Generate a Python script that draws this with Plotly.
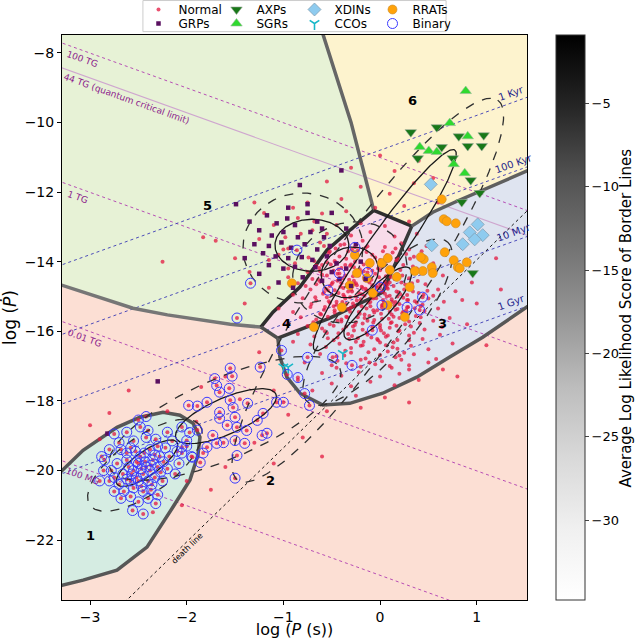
import numpy as np
import plotly.graph_objects as go
from plotly.colors import sample_colorscale

FONT = "DejaVu Sans"
X_RANGE = [-3.29, 1.52]
Y_RANGE = [-23.72, -7.49]

# ---------------- pulsar samples: log P (s), log Pdot ----------------
normal_logp = [
    -0.62, -0.41, -0.18, 0.05, 0.22, -0.95, -0.52, -0.29, -0.08, 0.13,
    0.35, -0.74, -0.35, -0.15, 0.30, -0.47, 0.00, 0.18, -1.05, 0.48,
    -0.88, -0.66, -0.55, -0.40, -0.30, -0.21, -0.10, 0.02, 0.12, 0.24,
    0.38, 0.55, -0.75, -0.60, -0.48, -0.36, -0.26, -0.16, -0.05, 0.06,
    0.18, 0.30, 0.44, 0.65, -0.95, -0.70, -0.42, -0.20, 0.00, -0.12,
    -0.85, -0.62, -0.52, -0.44, -0.34, -0.27, -0.19, -0.11, -0.03, 0.05,
    0.14, 0.22, 0.33, 0.47, 0.60, -0.72, -0.58, -0.47, -0.38, -0.30,
    -0.22, -0.14, -0.06, 0.02, 0.10, 0.19, 0.28, 0.40, 0.55, 0.78,
    -0.40, -0.24, -0.08, 0.08, -0.50, -0.16, 0.25, -0.90, -0.33, 0.00,
    -0.80, -0.66, -0.55, -0.45, -0.36, -0.28, -0.20, -0.12, -0.04, 0.04,
    0.12, 0.20, 0.29, 0.38, 0.50, 0.66, 0.85, -0.72, -0.58, -0.48,
    -0.39, -0.30, -0.22, -0.14, -0.06, 0.02, 0.10, 0.18, 0.27, 0.36,
    0.46, 0.60, -0.90, -0.62, -0.35, -0.10, 0.15, 0.42, -0.25, 0.07,
    -0.82, -0.66, -0.54, -0.44, -0.34, -0.25, -0.16, -0.07, 0.02, 0.11,
    0.20, 0.30, 0.42, 0.55, 0.72, -0.75, -0.60, -0.48, -0.38, -0.28,
    -0.18, -0.08, 0.01, 0.10, 0.20, 0.32, 0.46, 0.64, -0.95, 0.90,
    -0.85, -0.68, -0.55, -0.44, -0.33, -0.23, -0.13, -0.03, 0.08, 0.18,
    0.30, 0.44, 0.62, -0.72, -0.56, -0.42, -0.30, -0.18, -0.06, 0.06,
    0.18, 0.32, 0.50, 0.75, -0.90, -0.25, 0.00,
    -0.62, -0.45, -0.30, -0.15, 0.00, 0.16, 0.35, 0.58, -0.78, -0.50,
    -0.35, -0.20, -0.05, 0.12, 0.30, -0.60, -0.40, -0.22, 0.00, 0.20,
    -0.50, -0.30, -0.10, 0.15, -0.70, -0.25, 0.05, 0.40, 0.65, -0.85,
    -0.55, -0.30, -0.10, 0.15, 0.38, -0.70, -0.45, -0.20, 0.05, 0.30,
    -0.85, -0.60, -0.35, -0.05, 0.25, -1.10, -1.25, -0.98, -0.40, 0.10,
    -0.75, 0.35, -0.20, 0.55, 0.15, -0.55, 0.00, 0.40, -0.30, 0.60,
    -1.20, -0.90, -1.00, -1.15, -0.82, -0.68, -1.30, -0.95, -1.83,
    -1.50, -2.25, -1.70, -1.35, -1.15, -1.40, -1.05, -1.25, -1.60, -1.85,
    -2.60, -2.20, -1.45, -1.10, -0.95, -0.55, -0.20, 0.30, 0.80, 1.10,
    1.00, 1.25, 0.95, 1.20, 0.85, -1.30, -1.10, -0.80, -2.00, -1.75,
    -2.35, -2.05, -1.60, -0.60, 0.10, 0.50, -2.80, -3.00, -2.90, -1.90,
    -0.58, -0.46, -0.37, -0.23, -0.13, 0.03, 0.16, 0.27, 0.43, -0.68,
    -0.51, -0.43, -0.31, -0.17, -0.02, 0.09, 0.21, 0.34, 0.52, -0.64,
    -0.49, -0.39, -0.25, -0.09, 0.04, 0.15, 0.26, 0.39, -0.77, -0.56,
    -0.41, -0.29, -0.18, -0.04, 0.07, 0.17, 0.32, 0.49, -0.67, -0.53,
    -0.37, -0.24, -0.09, 0.03, 0.13, 0.24, 0.36, -0.71, -0.57, -0.45,
    -0.33, -0.19, -0.07, 0.06, 0.16, 0.29, 0.44, -0.61, -0.47, -0.35,
    -0.21, -0.11, 0.01, 0.14, 0.23, 0.37, -0.69, -0.52, -0.40, -0.26,
    -0.13, 0.00, 0.12, 0.26, 0.41, -0.57, -0.43, -0.27, -0.14, 0.04,
    0.19, 0.35, -0.48, -0.32, -0.17, -0.02, 0.14, 0.30, -0.36, -0.12,
    0.08, 0.25, -0.44, -0.20, 0.02, 0.22, -0.63, -0.28, 0.11, 0.45,
    -0.53, -0.42, -0.33, -0.24, -0.14, -0.05, 0.07, 0.17, 0.31, -0.60,
    -0.46, -0.36, -0.27, -0.17, -0.08, 0.01, 0.11, 0.23, 0.37, -0.55,
    -0.44, -0.32, -0.22, -0.12, -0.01, 0.10, 0.19, 0.33, -0.66, -0.50,
    -0.38, -0.27, -0.15, -0.04, 0.08, 0.21, 0.34, -0.59, -0.43, -0.31,
    -0.19, -0.07, 0.05, 0.18, 0.28, -0.52, -0.39, -0.26, -0.10, 0.03,
    0.16, 0.27, -0.47, -0.31, -0.16, -0.03, 0.12, 0.24, -0.40, -0.23,
    -0.06, 0.09, -0.35, -0.18, 0.00, 0.17, -0.29, -0.09, 0.06, -0.54,
    -0.20, 0.13, -0.37, 0.20, -0.45, -0.11, 0.30, -0.26, 0.05, -0.62,
]
normal_logpdot = [
    -13.45, -13.52, -13.40, -13.58, -13.47, -13.62, -13.71, -13.66, -13.80, -13.74,
    -13.86, -13.88, -13.92, -13.60, -13.65, -13.98, -13.95, -13.90, -13.80, -13.55,
    -14.05, -14.12, -14.02, -14.18, -14.08, -14.22, -14.05, -14.15, -14.28, -14.10,
    -14.20, -14.05, -14.30, -14.38, -14.26, -14.40, -14.33, -14.45, -14.35, -14.42,
    -14.36, -14.48, -14.32, -14.40, -14.45, -14.50, -14.47, -14.30, -14.25, -14.18,
    -14.62, -14.58, -14.70, -14.55, -14.66, -14.55, -14.72, -14.60, -14.75, -14.58,
    -14.70, -14.60, -14.75, -14.65, -14.80, -14.80, -14.88, -14.82, -14.95, -14.80,
    -14.90, -14.82, -14.95, -14.86, -14.98, -14.88, -14.96, -14.90, -14.98, -14.85,
    -14.62, -14.68, -14.68, -14.78, -14.95, -14.98, -14.80, -14.95, -14.86, -14.66,
    -15.05, -15.12, -15.02, -15.15, -15.06, -15.20, -15.08, -15.18, -15.05, -15.16,
    -15.08, -15.22, -15.10, -15.18, -15.06, -15.15, -15.10, -15.30, -15.38, -15.28,
    -15.40, -15.32, -15.45, -15.35, -15.46, -15.32, -15.44, -15.36, -15.48, -15.34,
    -15.42, -15.35, -15.45, -15.50, -15.22, -15.28, -15.25, -15.28, -15.00, -15.00,
    -15.60, -15.66, -15.58, -15.70, -15.60, -15.74, -15.62, -15.75, -15.64, -15.76,
    -15.62, -15.72, -15.60, -15.70, -15.62, -15.85, -15.92, -15.84, -15.95, -15.86,
    -15.96, -15.88, -15.98, -15.90, -15.98, -15.86, -15.95, -15.88, -15.78, -15.80,
    -16.08, -16.15, -16.05, -16.18, -16.08, -16.20, -16.10, -16.22, -16.12, -16.25,
    -16.12, -16.22, -16.10, -16.38, -16.45, -16.36, -16.48, -16.40, -16.52, -16.40,
    -16.50, -16.42, -16.52, -16.35, -16.30, -16.30, -16.32,
    -16.65, -16.72, -16.62, -16.78, -16.68, -16.75, -16.66, -16.80, -16.90, -16.98,
    -16.92, -17.02, -16.95, -17.05, -16.98, -17.20, -17.28, -17.18, -17.30, -17.22,
    -17.50, -17.58, -17.45, -17.55, -17.70, -17.85, -17.90, -17.40, -17.10, -17.40,
    -13.20, -13.25, -13.15, -13.28, -13.20, -13.10, -12.95, -12.90, -12.98, -12.85,
    -12.75, -12.62, -12.55, -12.45, -12.40, -12.95, -13.35, -13.30, -12.20, -12.05,
    -12.30, -11.75, -11.85, -11.60, -11.40, -11.70, -10.95, -11.10, -11.30, -12.30,
    -12.60, -12.45, -13.65, -13.95, -13.20, -12.85, -12.30, -14.20, -13.30,
    -13.90, -14.00, -13.40, -14.30, -14.75, -15.20, -15.35, -16.60, -17.30, -17.60,
    -17.70, -18.30, -17.95, -17.70, -18.40, -18.30, -18.20, -18.05, -17.30, -16.40,
    -15.20, -14.80, -14.60, -13.90, -13.60, -19.20, -19.80, -19.05, -20.30, -20.55,
    -21.20, -21.00, -19.90, -19.60, -17.00, -16.90, -18.35, -18.70, -19.10, -18.60,
    -13.55, -13.62, -13.50, -13.68, -13.56, -13.70, -13.62, -13.78, -13.70, -13.98,
    -14.08, -14.22, -14.12, -14.28, -14.20, -14.32, -14.24, -14.14, -14.26, -14.52,
    -14.60, -14.48, -14.62, -14.52, -14.64, -14.50, -14.66, -14.56, -14.70, -14.78,
    -14.72, -14.86, -14.76, -14.88, -14.74, -14.86, -14.72, -14.84, -15.02, -15.14,
    -15.00, -15.12, -15.02, -15.10, -15.16, -15.04, -15.14, -15.22, -15.30, -15.24,
    -15.36, -15.28, -15.40, -15.26, -15.38, -15.30, -15.24, -15.52, -15.46, -15.58,
    -15.50, -15.56, -15.50, -15.58, -15.48, -15.56, -15.74, -15.80, -15.72, -15.82,
    -15.70, -15.82, -15.74, -15.80, -15.76, -16.00, -16.06, -15.98, -16.04, -16.06,
    -16.00, -16.04, -16.26, -16.22, -16.30, -16.26, -16.32, -16.26, -16.56, -16.60,
    -16.58, -16.62, -16.85, -16.82, -16.86, -16.82, -14.18, -14.42, -14.44, -14.95,
    -13.75, -13.85, -13.70, -13.83, -13.72, -13.88, -13.82, -13.96, -13.92, -14.10,
    -14.02, -14.10, -14.16, -14.08, -14.26, -14.10, -14.18, -14.40, -14.30, -14.40,
    -14.35, -14.52, -14.40, -14.55, -14.45, -14.60, -14.42, -14.62, -14.65, -14.64,
    -14.76, -14.64, -14.78, -14.70, -14.66, -14.94, -14.86, -14.92, -14.90, -15.02,
    -14.94, -15.06, -14.92, -15.00, -15.10, -15.18, -15.16, -15.28, -15.16, -15.24,
    -15.16, -15.40, -15.40, -15.44, -15.52, -15.40, -15.52, -15.44, -15.66, -15.60,
    -15.68, -15.64, -15.86, -15.78, -15.90, -15.84, -16.14, -16.18, -16.16, -16.20,
    -16.42, -16.46, -16.70, -16.70, -17.05, -16.90, -17.10, -14.00, -14.02, -14.28,
]

binary_logp = [
    -2.60, -2.55, -2.50, -2.45, -2.42, -2.38, -2.35, -2.48, -2.52, -2.58,
    -2.40, -2.33, -2.30, -2.28, -2.44, -2.62, -2.66, -2.70, -2.65, -2.55,
    -2.47, -2.37, -2.25, -2.20, -2.18, -2.22, -2.30, -2.38, -2.53, -2.62,
    -2.72, -2.78, -2.80, -2.75, -2.68, -2.58, -2.50, -2.40, -2.30, -2.32,
    -2.56, -2.45, -2.85, -2.80, -2.70, -2.55, -2.42, -2.32, -2.15, -2.10,
    -2.08, -2.05, -2.00, -1.95, -2.12, -2.62, -2.40, -2.48, -2.75, -2.88,
    -2.86, -2.90, -2.47, -2.52, -2.43, -2.37, -2.57, -2.62, -2.50, -2.45,
    -2.36, -2.27, -2.24, -2.33, -2.58, -2.68, -2.75, -2.42, -2.50, -2.20,
    -2.05,
    -1.98, -1.89, -1.79, -1.71, -1.69, -1.55, -1.53, -1.24, -1.66, -1.56,
    -1.52, -1.37, -1.66, -1.55, -1.50, -1.66, -1.58, -1.48, -1.38, -1.21,
    -1.27, -1.17, -1.22, -1.40, -1.50, -1.62, -1.73, -1.89, -1.97, -2.00,
    -2.05, -1.79, -1.69, -1.83, -1.94, -1.50, -1.07, -1.00, -1.48, -1.86,
    -1.34, -1.48, -0.86, -1.02, -0.75, -0.49, -0.29, -0.96, -0.85, -0.78,
    -0.73, -0.08, 0.02, 0.28, 0.41, 0.44, -0.42, -0.54, -0.13, 0.00,
    -0.26,
]
binary_logpdot = [
    -19.90, -20.00, -19.80, -20.10, -19.90, -20.00, -19.70, -19.60, -20.20, -20.30,
    -20.30, -20.20, -19.90, -19.60, -19.50, -19.70, -20.10, -20.40, -20.60, -20.50,
    -20.45, -20.55, -20.30, -19.95, -19.60, -19.35, -19.30, -19.40, -19.45, -19.50,
    -19.80, -20.00, -20.30, -20.60, -20.80, -20.75, -20.90, -20.80, -20.70, -20.95,
    -21.15, -21.25, -19.70, -19.40, -19.20, -19.15, -19.05, -19.10, -19.15, -19.45,
    -19.80, -19.50, -19.30, -19.60, -20.10, -18.90, -18.85, -18.75, -18.95, -19.60,
    -20.00, -20.30, -19.95, -19.75, -19.75, -19.85, -20.10, -20.25, -20.30, -20.60,
    -20.40, -20.05, -19.75, -19.55, -19.35, -19.40, -20.20, -18.45, -18.55, -18.90,
    -18.75,
    -18.13, -18.15, -18.04, -17.36, -17.56, -17.06, -17.29, -17.03, -17.75, -17.64,
    -18.19, -18.07, -18.33, -17.98, -18.47, -18.50, -18.70, -18.76, -18.85, -18.36,
    -18.56, -18.93, -18.99, -19.22, -19.14, -19.20, -18.99, -18.84, -18.91, -19.14,
    -19.33, -19.33, -19.22, -19.50, -19.62, -20.22, -18.04, -18.04, -19.57, -19.77,
    -14.62, -15.62, -13.67, -16.55, -16.75, -16.75, -16.98, -17.24, -17.33, -17.79,
    -18.13, -15.97, -15.25, -15.31, -15.39, -15.02, -14.34, -14.82, -14.31, -14.73,
    -13.59,
]

grp_logp = [
    -1.49, -0.83, -1.17, -0.96, -1.07, -0.88, -0.75, -0.65, -1.25, -1.12,
    -1.00, -0.85, -0.72, -0.58, -1.30, -1.15, -1.02, -0.92, -0.78, -0.65,
    -0.52, -1.21, -1.08, -0.95, -0.81, -0.70, -0.55, -0.45, -1.15, -1.00,
    -0.88, -0.67, -0.50, -0.35, -0.80, -0.60, -0.42, -1.05, -0.90, -0.30,
    -0.75, -0.50, -0.35, -0.25, -2.30, -2.82, -0.40, -1.35, -0.60, -0.20,
    -1.25, -0.15, -0.95, -1.40,
]
grp_logpdot = [
    -12.35, -11.80, -12.67, -12.76, -12.90, -12.95, -12.60, -12.85, -13.10, -13.25,
    -13.15, -13.30, -13.15, -13.30, -13.50, -13.55, -13.45, -13.60, -13.50, -13.65,
    -13.55, -13.76, -13.85, -13.90, -13.87, -13.95, -13.85, -14.05, -14.10, -14.20,
    -14.15, -14.16, -14.30, -14.20, -14.45, -14.55, -14.50, -14.60, -14.75, -14.70,
    -12.35, -12.60, -13.05, -13.50, -17.44, -18.94, -11.38, -12.85, -13.05, -14.00,
    -14.35, -14.50, -12.45, -13.90,
]

axp_logp = [0.318, 0.587, 0.814, 1.072, 0.907, 1.052, 0.638, 0.390, 0.752, 0.938, 1.031, 0.845, 0.959]
axp_logpdot = [-10.28, -10.14, -10.40, -10.37, -10.68, -10.68, -10.71, -11.03, -11.03, -11.66, -12.03, -12.29, -14.33]

sgr_logp = [0.886, 0.721, 0.907, 0.411, 0.504, 0.587, 0.762, 0.876]
sgr_logpdot = [-9.10, -10.02, -10.40, -10.71, -10.82, -10.85, -11.20, -11.46]

xdin_logp = [0.525, 1.010, 0.928, 1.062, 0.979, 0.855, 0.535]
xdin_logpdot = [-11.78, -12.93, -13.16, -13.24, -13.36, -13.50, -13.53]

cco_logp = [-1.00, -0.95, -0.385]
cco_logpdot = [-17.03, -17.03, -16.64]

rrat_logp = [
    0.638, 0.659, 0.690, 0.783, 0.669, 0.762, 0.452, 0.804, 0.897, 0.824,
    0.535, 0.545, 0.442, 0.359, 0.421, 0.173, 0.101, -0.106, 0.018, 0.080,
    -0.137, -0.240, -0.313, -0.261, -0.075, 0.080, -0.395, 0.256, -0.685, -0.912,
    0.307,
]
rrat_logpdot = [
    -12.21, -12.78, -12.84, -12.90, -13.73, -13.96, -13.93, -14.16, -14.02, -14.19,
    -14.16, -14.33, -14.27, -14.27, -13.87, -14.44, -14.24, -14.04, -14.04, -13.90,
    -14.47, -14.33, -14.68, -13.81, -14.90, -15.25, -15.31, -15.59, -15.88, -14.62,
    -14.73,
]

# ---------------- reference lines ----------------
field_gauss = [1e14, 4.4e13, 1e12, 1e10, 1e8]
field_labels = ["100 TG", "44 TG (quantum critical limit)", "1 TG", "0.01 TG", "100 MG"]
field_label_x = [-3.083, -2.618, -3.134, -3.062, -3.083]
field_label_y = [-8.18, -9.33, -12.15, -16.20, -20.17]

age_years = [1e3, 1e5, 1e7, 1e9]
age_labels = ["1 Kyr", "100 Kyr", "10 Myr", "1 Gyr"]
age_label_x = [1.351, 1.382, 1.380, 1.351]
age_label_y = [-9.16, -11.17, -13.15, -15.16]

death_slope, death_icpt = 2.7, -16.65

# ---------------- class borders ----------------
b56_x = [-0.61, -0.30, -0.065]
b56_y = [-7.30, -10.00, -12.53]
b54_x = [-1.233, -1.108, -0.829, -0.550, -0.313, -0.065]
b54_y = [-15.88, -15.45, -14.73, -13.67, -13.10, -12.53]
b52_x = [-3.40, -2.90, -2.556, -2.20, -1.863, -1.55, -1.233]
b52_y = [-14.58, -15.02, -15.34, -15.53, -15.68, -15.80, -15.88]
b42_x = [-1.233, -1.057]
b42_y = [-15.88, -16.20]
b46_x = [-0.065, 0.328]
b46_y = [-12.53, -12.98]
b43_x = [-1.057, -0.519, 0.028, 0.183, 0.328]
b43_y = [-16.20, -15.62, -14.88, -13.90, -12.98]
b63_x = [0.328, 0.545, 0.824, 1.238, 1.60]
b63_y = [-12.98, -12.58, -12.23, -11.74, -11.30]
b32_x = [-1.057, -1.036, -0.964, -0.829, -0.592, -0.313, 0.028, 0.380, 0.721, 1.062, 1.60]
b32_y = [-16.20, -16.74, -17.32, -17.78, -18.12, -18.07, -17.78, -17.32, -16.74, -16.17, -15.15]
b12_x = [-3.40, -3.29, -3.072, -2.721, -2.483, -2.245, -2.070, -1.935, -1.863, -1.884,
         -1.966, -2.142, -2.411, -2.721, -3.072, -3.29, -3.40]
b12_y = [-20.30, -20.01, -19.42, -18.76, -18.47, -18.33, -18.41, -18.64, -19.04, -19.56,
         -20.27, -21.05, -22.20, -22.86, -23.15, -23.30, -23.35]

border_scores = {"52": -14, "56": -12, "54": -6, "46": -6, "43": -7, "42": -9, "63": -11, "32": -10, "12": -10}

# ---------------- mixture component ellipses (centre, two half-axis vectors) ----------------
ell_cx = [-2.411, -2.432, -1.594, -1.605, -0.024, -0.024, -0.313, -0.313, -0.705, -0.798, 0.049, -0.127]
ell_cy = [-19.79, -19.85, -18.44, -18.50, -15.20, -15.74, -14.31, -14.31, -13.53, -13.61, -13.67, -14.82]
ell_ax = [0.310, 0.568, 0.517, 1.189, 0.331, 0.724, 0.289, 0.578, 0.382, 0.620, 0.724, 1.344]
ell_ay = [0.603, 1.149, 0.632, 1.437, 1.006, 2.299, 0.230, 0.460, 0.0, 0.0, 2.874, 5.460]
ell_bx = [0.072, 0.171, 0.075, 0.165, 0.114, 0.273, 0.062, 0.124, 0.0, 0.0, 0.152, 0.409]
ell_by = [-0.287, -0.652, -0.474, -1.055, -0.287, -0.664, -0.690, -1.380, -0.747, -1.580, -0.296, -0.779]
ell_dashed = [False, True, False, True, False, True, False, True, False, True, False, True]

region_labels = ["1", "2", "3", "4", "5", "6"]
region_label_x = [-3.0, -1.13, 0.649, -0.964, -1.78, 0.339]
region_label_y = [-21.87, -20.28, -15.77, -15.77, -12.38, -9.36]

CB_MIN, CB_MAX = -34.8, -0.9
CB_TITLE = "Average Log Likelihood Score of Border Lines"
GREYS = [[0.0, "rgb(255,255,255)"], [0.125, "rgb(240,240,240)"], [0.25, "rgb(217,217,217)"],
         [0.375, "rgb(189,189,189)"], [0.5, "rgb(150,150,150)"], [0.625, "rgb(115,115,115)"],
         [0.75, "rgb(82,82,82)"], [0.875, "rgb(37,37,37)"], [1.0, "rgb(0,0,0)"]]


def score_color(s):
    return sample_colorscale(GREYS, [(s - CB_MIN) / (CB_MAX - CB_MIN)])[0]


def rev(a):
    return list(a)[::-1]


fig = go.Figure()


def add_region(xs, ys, color):
    fig.add_trace(go.Scatter(x=xs, y=ys, mode="lines", fill="toself", fillcolor=color,
                             line=dict(width=0), hoverinfo="skip", showlegend=False))


# region fills (region 2 is the background)
add_region([-3.4, -0.61] + b56_x + rev(b54_x) + rev(b52_x),
           [-7.3, -7.3] + b56_y + rev(b54_y) + rev(b52_y), "#e7f2d6")
add_region([-0.61, 1.6, 1.6] + rev(b63_x) + rev(b46_x) + rev(b56_x),
           [-7.3, -7.3, -11.30] + rev(b63_y) + rev(b46_y) + rev(b56_y), "#fdf3ce")
add_region(b54_x + b46_x + rev(b43_x) + rev(b42_x),
           b54_y + b46_y + rev(b43_y) + rev(b42_y), "#f8dcea")
add_region(b43_x + b63_x + [1.6] + rev(b32_x),
           b43_y + b63_y + [-15.15] + rev(b32_y), "#dfe4f0")
add_region(b12_x, b12_y, "#d5ece2")

# magnetic field lines
xl = np.array([-3.4, 1.6])
for b, name in zip(field_gauss, field_labels):
    yl = 2 * np.log10(b) - 2 * np.log10(3.2e19) - xl
    if "quantum" in name:
        ln = dict(color="#cfa6cf", width=1.1)
    else:
        ln = dict(color="#b03cb0", width=0.9, dash="dot")
    fig.add_trace(go.Scatter(x=xl, y=yl, mode="lines", line=ln, hoverinfo="skip", showlegend=False))

# characteristic age lines
for t in age_years:
    yl = xl - np.log10(2 * t * 3.156e7)
    fig.add_trace(go.Scatter(x=xl, y=yl, mode="lines", line=dict(color="#3a3ab4", width=0.9, dash="dot"),
                             hoverinfo="skip", showlegend=False))

# death line
fig.add_trace(go.Scatter(x=xl, y=death_slope * xl + death_icpt, mode="lines",
                         line=dict(color="black", width=0.9, dash="dot"), hoverinfo="skip", showlegend=False))

# borders between classes
borders = {"52": (b52_x, b52_y), "56": (b56_x, b56_y), "54": (b54_x, b54_y), "46": (b46_x, b46_y),
           "43": (b43_x, b43_y), "42": (b42_x, b42_y), "63": (b63_x, b63_y), "32": (b32_x, b32_y),
           "12": (b12_x, b12_y)}
for key, (bx, by) in borders.items():
    fig.add_trace(go.Scatter(x=bx, y=by, mode="lines",
                             line=dict(color=score_color(border_scores[key]), width=3.5),
                             hoverinfo="skip", showlegend=False))

# pulsars
fig.add_trace(go.Scatter(x=normal_logp + binary_logp, y=normal_logpdot + binary_logpdot, mode="markers",
                         name="Normal", legend="legend",
                         marker=dict(symbol="circle", size=4, color="#e3173f", opacity=0.75)))

# ellipses
tt = np.linspace(0, 2 * np.pi, 240)
for cx, cy, ax, ay, bx, by, dsh in zip(ell_cx, ell_cy, ell_ax, ell_ay, ell_bx, ell_by, ell_dashed):
    ex = cx + ax * np.cos(tt) + bx * np.sin(tt)
    ey = cy + ay * np.cos(tt) + by * np.sin(tt)
    fig.add_trace(go.Scatter(x=ex, y=ey, mode="lines",
                             line=dict(color="#303030" if dsh else "#1a1a1a", width=1.3,
                                       dash="dash" if dsh else "solid"),
                             hoverinfo="skip", showlegend=False))

fig.add_trace(go.Scatter(x=axp_logp, y=axp_logpdot, mode="markers", name="AXPs", legend="legend",
                         marker=dict(symbol="triangle-down", size=10, color="#187818",
                                     line=dict(color="#9aa89a", width=0.6))))
fig.add_trace(go.Scatter(x=xdin_logp, y=xdin_logpdot, mode="markers", name="XDINs", legend="legend",
                         marker=dict(symbol="diamond", size=10, color="#8ecbef",
                                     line=dict(color="#7c98aa", width=0.7))))
fig.add_trace(go.Scatter(x=rrat_logp, y=rrat_logpdot, mode="markers", name="RRATs", legend="legend",
                         marker=dict(symbol="circle", size=9, color="#ffa20a",
                                     line=dict(color="#c98a2a", width=0.6))))
fig.add_trace(go.Scatter(x=grp_logp, y=grp_logpdot, mode="markers", name="GRPs", legend="legend2",
                         marker=dict(symbol="square", size=4.5, color="#5a1060")))
fig.add_trace(go.Scatter(x=sgr_logp, y=sgr_logpdot, mode="markers", name="SGRs", legend="legend2",
                         marker=dict(symbol="triangle-up", size=10, color="#2fd92f",
                                     line=dict(color="#9ab89a", width=0.6))))
fig.add_trace(go.Scatter(x=cco_logp, y=cco_logpdot, mode="markers", name="CCOs", legend="legend2",
                         marker=dict(symbol="y-down", size=8, color="#18b8c8",
                                     line=dict(color="#18b8c8", width=1.6))))
fig.add_trace(go.Scatter(x=binary_logp, y=binary_logpdot, mode="markers", name="Binary", legend="legend2",
                         marker=dict(symbol="circle-open", size=10, color="#3a3aff",
                                     line=dict(color="#3a3aff", width=1))))

# colour bar for border scores
fig.add_trace(go.Scatter(x=[-9.0], y=[-15.0], mode="markers", showlegend=False, hoverinfo="skip",
                         marker=dict(color=[-15.0], colorscale=GREYS, cmin=CB_MIN, cmax=CB_MAX, size=1,
                                     showscale=True,
                                     colorbar=dict(x=1.062, xanchor="left", xpad=0, y=0.5, yanchor="middle",
                                                   ypad=0, len=1.0, thickness=29, outlinewidth=1,
                                                   outlinecolor="#333333", ticks="outside", ticklen=4,
                                                   tickvals=[-5, -10, -15, -20, -25, -30],
                                                   tickfont=dict(size=13, color="black")))))

annotations = []
for txt, x, y in zip(field_labels, field_label_x, field_label_y):
    annotations.append(dict(x=x, y=y, text=txt, showarrow=False, textangle=19.8,
                            xanchor="center", yanchor="middle", font=dict(size=9, color="#8c1c8c")))
for txt, x, y in zip(age_labels, age_label_x, age_label_y):
    annotations.append(dict(x=x, y=y, text=txt, showarrow=False, textangle=-19.8,
                            xanchor="center", yanchor="middle", font=dict(size=10, color="#1e1e8c")))
annotations.append(dict(x=-1.997, y=-22.23, text="death line", showarrow=False, textangle=-44.2,
                        xanchor="center", yanchor="middle", font=dict(size=8, color="black")))
for txt, x, y in zip(region_labels, region_label_x, region_label_y):
    annotations.append(dict(x=x, y=y, text="<b>%s</b>" % txt, showarrow=False,
                            xanchor="center", yanchor="middle", font=dict(size=13, color="black")))
annotations.append(dict(xref="paper", yref="paper", x=1.2129, y=0.5, text=CB_TITLE, showarrow=False,
                        xanchor="center", yanchor="middle", textangle=-90,
                        font=dict(size=15, color="black")))

axis_common = dict(showgrid=False, zeroline=False, showline=True, linecolor="black", linewidth=1,
                   mirror=True, ticks="outside", ticklen=4, tickcolor="black",
                   tickfont=dict(size=14, color="black"))

legend_common = dict(orientation="h", x=0.5, xanchor="center", yanchor="top",
                     bgcolor="rgba(0,0,0,0)", font=dict(size=12), entrywidth=33, itemclick=False)

fig.update_layout(
    width=640, height=639,
    margin=dict(l=62, r=113, t=35, b=39, autoexpand=False),
    font=dict(family=FONT, color="black"),
    paper_bgcolor="white", plot_bgcolor="#fcdfd4",
    xaxis=dict(range=X_RANGE, tickvals=[-3, -2, -1, 0, 1],
               title=dict(text="log (<i>P</i> (s))", font=dict(size=16), standoff=1), **axis_common),
    yaxis=dict(range=Y_RANGE, tickvals=[-22, -20, -18, -16, -14, -12, -10, -8],
               title=dict(text="log (<i>Ṗ</i>)", font=dict(size=17), standoff=6), **axis_common),
    legend=dict(y=1.0708, **legend_common),
    legend2=dict(y=1.046, **legend_common),
    shapes=[dict(type="rect", xref="paper", yref="paper", x0=0.174, x1=0.826, y0=1.006, y1=1.061,
                 line=dict(color="#cccccc", width=1), fillcolor="white", layer="below")],
    annotations=annotations,
    showlegend=True,
)

fig.write_html("out.html", config={"displayModeBar": False},
               post_script="document.body.style.margin='0px';")
